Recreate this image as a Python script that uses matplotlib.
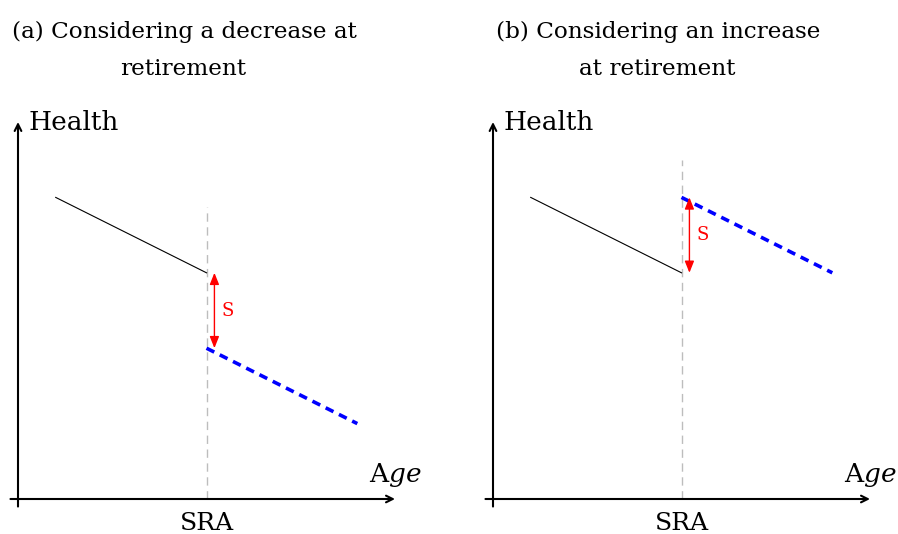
import matplotlib
matplotlib.use("Agg")
import matplotlib.pyplot as plt

# ---- data (schematic units) ----
age_before = [2, 10]
age_after = [10, 18]
health_before_a = [16, 12]
health_after_a = [8, 4]
health_before_b = [16, 12]
health_after_b = [16, 12]
sra = 10
sra_line_top = [15.5, 18]
titles = [["(a) Considering a decrease at", "retirement"],
          ["(b) Considering an increase", "at retirement"]]
shock_label = "S"
xlabel = "A$ge$"
ylabel = "Health"
tick_label = "SRA"

W, H = 898, 534
DPI = 100
plt.rcParams['font.family'] = ['DejaVu Serif']
plt.rcParams['mathtext.fontset'] = 'dejavuserif'

fig = plt.figure(figsize=(W / DPI, H / DPI), dpi=DPI)

origins = [(18, 499), (493, 499)]
scale = 18.85
panels = [(health_before_a, health_after_a), (health_before_b, health_after_b)]
title_cx = [[184, 183], [658, 657]]
title_base = [38, 75]

for i, (ox, oy) in enumerate(origins):
    ax = fig.add_axes([0, 0, 1, 1])
    ax.set_xlim(-ox / scale, (W - ox) / scale)
    ax.set_ylim(-(H - oy) / scale, oy / scale)
    ax.axis('off')
    ax.patch.set_alpha(0)
    hb, ha_ = panels[i]

    # axes arrows
    ax.annotate("", xy=(20, 0), xytext=(-0.4, 0),
                arrowprops=dict(arrowstyle="->", lw=1.5, color="black",
                                shrinkA=0, shrinkB=0, mutation_scale=12))
    ax.annotate("", xy=(0, 20), xytext=(0, -0.4),
                arrowprops=dict(arrowstyle="->", lw=1.5, color="black",
                                shrinkA=0, shrinkB=0, mutation_scale=12))

    # SRA guide
    ax.plot([sra, sra], [0, sra_line_top[i]], color="#bdbdbd", lw=1.0,
            dashes=(6, 4), clip_on=False)

    # health paths
    ax.plot(age_before, hb, color="black", lw=0.8, clip_on=False)
    ax.plot(age_after, ha_, color="#0000ff", lw=2.6, dashes=(2.4, 1.7),
            clip_on=False)

    # shock arrow
    ax.annotate("", xy=(sra + 0.42, ha_[0]), xytext=(sra + 0.42, hb[1]),
                arrowprops=dict(arrowstyle="<|-|>,head_length=0.5,head_width=0.2",
                                lw=1.0, color="red",
                                shrinkA=0, shrinkB=0, mutation_scale=14))
    ax.text(sra + 1.15, (ha_[0] + hb[1]) / 2, shock_label, color="red",
            fontsize=13, ha="center", va="center")

    # labels
    ax.text(0.55, 19.95, ylabel, fontsize=19, ha="left", va="center")
    ax.text(18.6, 0.9, xlabel, fontsize=19, ha="left", va="baseline")
    ax.text(sra, -0.7, tick_label, fontsize=18, ha="center", va="top")

    for j, line in enumerate(titles[i]):
        fig.text(title_cx[i][j] / W, 1 - title_base[j] / H, line, fontsize=16.7,
                 ha="center", va="baseline")

fig.savefig("out.png", dpi=DPI)
